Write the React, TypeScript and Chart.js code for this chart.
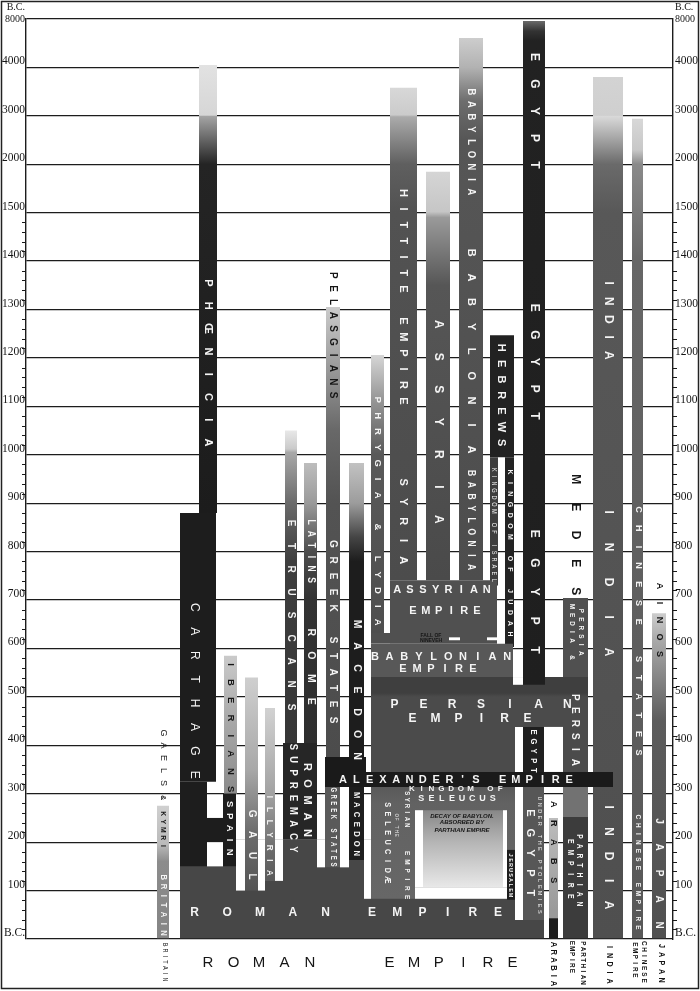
import React, { useEffect, useRef } from 'react';
import { Chart, registerables } from 'chart.js';

Chart.register(...registerables);

// ---- Axis: non-linear year ticks (years B.C.) ----
const TICK_YEARS = [0, 100, 200, 300, 400, 500, 600, 700, 800, 900, 1000, 1100, 1200, 1300, 1400, 1500, 2000, 3000, 4000, 8000];
const TICK_LABELS: (string | string[])[] = ['B.C.', '100', '200', '300', '400', '500', '600', '700', '800', '900', '1000', '1100', '1200', '1300', '1400', '1500', '2000', '3000', '4000', ['B.C.', '8000']];

// ---- Values: span of each block, in years B.C. [from, until] (paint order) ----
const SPANS: Record<string, [number, number]> = {
  romanBase: [205, 0],
  britain: [275, 0],
  phoenicia: [4200, 880],
  carthage: [880, 325],
  carthageLate: [325, 150],
  carthSpain: [250, 200],
  gapCarthage: [200, 150],
  iberians: [585, 300],
  spain: [300, 150],
  gapGaulL: [205, 100],
  gaul: [540, 100],
  gapGaulR: [205, 100],
  illyria: [477, 120],
  gapIllyria: [205, 120],
  etruscans: [1050, 405],
  latins: [983, 405],
  supremacy: [405, 205],
  gapRome: [205, 148],
  pelasgians: [1305, 376],
  greekLate: [314, 148],
  gapGreek: [314, 148],
  macedon: [983, 376],
  macedonLate: [314, 163],
  gapMacedon: [205, 83],
  phrygia: [1206, 632],
  hittite: [3580, 741],
  assyria: [1923, 741],
  babylonia: [6440, 741],
  hebrews: [1247, 995],
  israel: [995, 730],
  judah: [995, 603],
  assyrianEmp: [741, 610],
  assyrianLow: [632, 610],
  babylonianEmp: [610, 541],
  mediaPersia: [704, 541],
  persianEmp: [541, 345],
  egypt: [7840, 525],
  gapEgyptMid: [541, 525],
  gapEgyptL: [438, 39],
  egyptLate: [438, 345],
  gapEgyptR: [438, 345],
  persiaLate: [345, 252],
  parthian: [252, 0],
  seleucid: [314, 83],
  gapDecayL: [266, 107],
  decay: [266, 107],
  gapDecayR: [266, 107],
  gapDecayB: [107, 83],
  jerusalem: [184, 81],
  ptolemies: [314, 39],
  arabs: [250, 43],
  arabia: [43, 0],
  india: [3800, 0],
  chinese: [2940, 0],
  japan: [673, 0],
  macAlex: [376, 314],
  alexander: [345, 314],
  ninevehA: [623, 617],
  ninevehB: [623, 617],
};

// ---- Layout: horizontal lane of each block (x-axis lane units) ----
const LANES: Record<string, [number, number]> = {
  romanBase: [180, 544], britain: [157, 169], phoenicia: [199, 217], carthage: [180, 216],
  carthageLate: [180, 207], carthSpain: [207, 236], gapCarthage: [207, 223], iberians: [224, 237],
  spain: [223, 236], gapGaulL: [236, 245], gaul: [245, 258], gapGaulR: [258, 265],
  illyria: [265, 275], gapIllyria: [275, 283], etruscans: [285, 297], latins: [304, 317],
  supremacy: [283, 317], gapRome: [317, 325], pelasgians: [326, 340], greekLate: [325, 340],
  gapGreek: [340, 349], macedon: [349, 364], macedonLate: [349, 364], gapMacedon: [364, 371],
  phrygia: [371, 384], hittite: [390, 417], assyria: [426, 450], babylonia: [459, 483],
  hebrews: [490, 514], israel: [490, 498], judah: [505, 514], assyrianEmp: [390, 497],
  assyrianLow: [371, 390], babylonianEmp: [371, 513], mediaPersia: [563, 588], persianEmp: [371, 588],
  egypt: [523, 545], gapEgyptMid: [513, 523], gapEgyptL: [515, 523], egyptLate: [523, 544],
  gapEgyptR: [544, 563], persiaLate: [563, 588], parthian: [563, 588], seleucid: [371, 515],
  gapDecayL: [415, 423], decay: [423, 503], gapDecayR: [503, 507], gapDecayB: [415, 507],
  jerusalem: [507, 515], ptolemies: [523, 544], arabs: [549, 558], arabia: [549, 558],
  india: [593, 623], chinese: [632, 643], japan: [652, 666], macAlex: [325, 366],
  alexander: [366, 613], ninevehA: [449, 460], ninevehB: [487, 497],
};

// ---- Styles: flat colour or vertical shading stops [year, colour] ----
const W0 = '#ffffff';
const BLK = '#1d1d1d';
const SHADES: Record<string, string | [number, string][]> = {
  romanBase: '#474747',
  britain: [[275, '#d0d0d0'], [195, '#bababa'], [160, '#8c8c8c'], [0, '#858585']],
  phoenicia: [[4200, '#e2e2e2'], [3010, '#d6d6d6'], [3000, '#a5a5a5'], [2000, '#242424'], [880, '#1c1c1c']],
  carthage: BLK, carthageLate: BLK, carthSpain: BLK, gapCarthage: W0,
  iberians: [[585, '#cacaca'], [450, '#a8a8a8'], [300, '#8a8a8a']],
  spain: BLK, gapGaulL: W0,
  gaul: [[540, '#cfcfcf'], [350, '#a8a8a8'], [220, '#6c6c6c'], [100, '#555555']],
  gapGaulR: W0,
  illyria: [[477, '#d2d2d2'], [300, '#a2a2a2'], [180, '#6a6a6a'], [120, '#5a5a5a']],
  gapIllyria: W0,
  etruscans: [[1050, '#e8e8e8'], [1012, '#cacaca'], [1005, '#a8a8a8'], [900, '#6a6a6a'], [780, '#3e3e3e'], [405, '#363636']],
  latins: [[983, '#bdbdbd'], [900, '#9a9a9a'], [800, '#4c4c4c'], [700, '#333333'], [405, '#2e2e2e']],
  supremacy: '#262626', gapRome: W0,
  pelasgians: [[1305, '#cbcbcb'], [1180, '#9a9a9a'], [1050, '#686868'], [900, '#535353'], [376, '#4c4c4c']],
  greekLate: '#5a5a5a', gapGreek: W0,
  macedon: [[983, '#c2c2c2'], [900, '#9c9c9c'], [830, '#454545'], [780, BLK], [376, BLK]],
  macedonLate: BLK, gapMacedon: W0,
  phrygia: [[1206, '#d6d6d6'], [1120, '#9a9a9a'], [1000, '#595959'], [632, '#4e4e4e']],
  hittite: [[3580, '#d8d8d8'], [3020, '#cbcbcb'], [2980, '#ababab'], [2000, '#5f5f5f'], [1500, '#525252'], [741, '#4c4c4c']],
  assyria: [[1923, '#d5d5d5'], [1510, '#c6c6c6'], [1490, '#9a9a9a'], [1350, '#565656'], [741, '#4a4a4a']],
  babylonia: [[6440, '#cdcdcd'], [4000, '#b2b2b2'], [3300, '#6d6d6d'], [2500, '#565656'], [741, '#4d4d4d']],
  hebrews: '#222222', israel: '#3e3e3e', judah: '#232323',
  assyrianEmp: '#505050', assyrianLow: '#505050', babylonianEmp: '#585858', mediaPersia: '#505050',
  persianEmp: [[541, '#3f3f3f'], [508, '#3f3f3f'], [500, '#4b4b4b'], [345, '#4b4b4b']],
  egypt: [[7840, '#6a6a6a'], [7000, '#333333'], [6200, '#222222'], [525, '#1f1f1f']],
  gapEgyptMid: W0, gapEgyptL: W0, egyptLate: '#1f1f1f', gapEgyptR: W0,
  persiaLate: '#727272', parthian: '#3c3c3c',
  seleucid: [[314, '#5a5a5a'], [280, '#626262'], [83, '#676767']],
  gapDecayL: W0,
  decay: [[266, '#878787'], [200, '#b5b5b5'], [107, '#e8e8e8']],
  gapDecayR: W0, gapDecayB: W0, jerusalem: BLK, ptolemies: '#575757',
  arabs: [[250, '#bdbdbd'], [60, '#9a9a9a']], arabia: BLK,
  india: [[3800, '#d3d3d3'], [3010, '#cfcfcf'], [2990, '#d9d9d9'], [2000, '#6a6a6a'], [1500, '#585858'], [0, '#4f4f4f']],
  chinese: [[2940, '#d8d8d8'], [2300, '#c8c8c8'], [2000, '#8a8a8a'], [1400, '#666666'], [0, '#585858']],
  japan: [[673, '#cdcdcd'], [620, '#ababab'], [450, '#5c5c5c'], [0, '#505050']],
  macAlex: '#1a1a1a', alexander: '#1a1a1a', ninevehA: W0, ninevehB: W0,
};

// ---- Text labels: [text, lane x, year, letter pitch, size, colour, direction, style, squeeze] ----
const W = '#f4f4f4';
const D = '#161616';
type Lbl = [string, number, number, number, number, string, 'v' | 'h', string?, number?];
const LABELS: Lbl[] = [
  ['PHŒNICIA', 208, 1190, 22.8, 11, W, 'v', 'bold'],
  ['CARTHAGE', 194, 512, 23.9, 12, W, 'v'],
  ['IBERIANS', 230.5, 438, 17.8, 9.5, D, 'v', 'bold'],
  ['SPAIN', 229.5, 229, 12, 9.5, W, 'v', 'bold'],
  ['GAUL', 251.5, 194, 21, 10, W, 'v', 'bold'],
  ['ILLYRIA', 270, 215, 12.7, 9.5, W, 'v', 'bold', 0.85],
  ['ETRUSCANS', 291, 669, 23, 10, W, 'v', 'bold'],
  ['LATINS', 310.5, 801, 11.6, 10, W, 'v', 'bold', 0.85],
  ['ROME', 310.5, 562, 23, 10.5, W, 'v', 'bold'],
  ['SUPREMACY', 293, 291, 12.8, 11, W, 'v', 'bold', 0.85],
  ['ROMAN', 307, 287, 16.5, 11, W, 'v', 'bold'],
  ['PELASGIANS', 333, 1247, 13.3, 10, D, 'v', 'bold'],
  ['GREEK STATES', 333, 634, 16, 10, W, 'v', 'bold'],
  ['GREEK STATES', 333, 231, 6.8, 8.5, W, 'v', 'bold', 0.7],
  ['MACEDON', 356.5, 514, 22, 10.5, W, 'v', 'bold'],
  ['MACEDON', 356.5, 237, 9.7, 9, W, 'v', 'bold', 0.85],
  ['PHRYGIA & LYDIA', 377.5, 884, 15.9, 9.5, W, 'v', 'bold'],
  ['HITTITE EMPIRE', 403.5, 1326, 16, 11, W, 'v', 'bold'],
  ['SYRIA', 403.5, 863, 19.5, 11, W, 'v', 'bold'],
  ['ASSYRIA', 438, 1068, 32.5, 12, W, 'v', 'bold'],
  ['BABYLONIA', 471, 2460, 12.5, 11, W, 'v', 'bold', 0.85],
  ['BABYLONIA', 471, 1214, 24.6, 11, W, 'v', 'bold'],
  ['BABYLONIA', 471, 865, 11.75, 10, W, 'v', 'bold', 0.85],
  ['HEBREWS', 501, 1123, 15.8, 11, W, 'v', 'bold'],
  ['KINGDOM OF ISRAEL', 494, 855, 6.9, 6.5, W, 'v', '', 0.85],
  ['KINGDOM OF JUDAH', 510, 797, 10.8, 7, W, 'v', 'bold'],
  ['EGYPT', 534, 3100, 27, 12, W, 'v', 'bold'],
  ['EGYPT', 534, 1192, 27, 12, W, 'v', 'bold'],
  ['EGYPT', 534, 717, 29, 12, W, 'v', 'bold'],
  ['EGYPT', 533.5, 388, 9.6, 9, W, 'v', 'bold', 0.85],
  ['EGYPT', 530, 178, 20, 11, W, 'v', 'bold'],
  ['UNDER THE PTOLEMIES', 540, 173, 6.3, 5.5, W, 'v'],
  ['MEDES', 575, 834, 28, 12, D, 'v', 'bold'],
  ['MEDIA &', 572.5, 634, 8.5, 8, W, 'v', 'bold', 0.8],
  ['PERSIA', 581, 634, 8.5, 8, W, 'v', 'bold', 0.8],
  ['PERSIA', 575, 432, 13, 10, W, 'v', 'bold'],
  ['PARTHIAN', 579.5, 142, 9.6, 8.5, W, 'v', 'bold', 0.8],
  ['EMPIRE', 570, 145, 11, 8.5, W, 'v', 'bold', 0.8],
  ['INDIA', 608, 1280, 18, 12, W, 'v', 'bold'],
  ['INDIA', 608, 737, 35, 12, W, 'v', 'bold'],
  ['INDIA', 608, 171, 24.5, 12, W, 'v', 'bold'],
  ['CHINESE STATES', 638, 636, 18.7, 9, W, 'v', 'bold'],
  ['CHINESE EMPIRE', 638.5, 138, 8.5, 8, W, 'v', 'bold', 0.8],
  ['AINOS', 659, 659, 17, 9, D, 'v', 'bold'],
  ['JAPAN', 659, 136, 26, 10, W, 'v', 'bold'],
  ['GAELS', 163, 374, 12.5, 9, D, 'v'],
  ['& KYMRI', 163, 242, 8, 8, D, 'v', 'bold', 0.85],
  ['BRITAIN', 163, 70, 9.3, 9, W, 'v', 'bold', 0.85],
  ['SYRIAN', 407, 268, 6.4, 8, W, 'v', 'bold', 0.75],
  ['EMPIRE', 407, 132, 8.8, 8, W, 'v', 'bold', 0.8],
  ['SELEUCIDÆ', 387, 200, 9.4, 9, W, 'v', 'bold', 0.8],
  ['OF THE', 396, 235, 4, 4.5, W, 'v'],
  ['JERUSALEM', 511, 132, 5, 5.5, W, 'v', 'bold'],
  ['ARABS', 553.5, 200, 19, 9, D, 'v', 'bold'],
  ['ASSYRIAN', 442, 721, 12.8, 11, W, 'h', 'bold'],
  ['EMPIRE', 445, 677, 12.8, 11, W, 'h', 'bold'],
  ['FALL OF', 431, 627, 0, 5, D, 'h', 'bold'],
  ['NINEVEH', 431, 616, 0, 5, D, 'h', 'bold'],
  ['BABYLONIAN', 441, 582, 14.7, 11, W, 'h', 'bold'],
  ['EMPIRE', 438, 558, 14, 11, W, 'h', 'bold'],
  ['PERSIAN', 481, 483, 28.8, 12, W, 'h', 'bold'],
  ['EMPIRE', 470, 454, 23, 12, W, 'h', 'bold'],
  ["ALEXANDER'S EMPIRE", 456, 329, 13.3, 11, W, 'h', 'bold'],
  ['KINGDOM OF', 456, 311, 9.8, 8, W, 'h', 'bold'],
  ['SELEUCUS', 457, 291, 10.2, 9, W, 'h', 'bold'],
  ['DECAY OF BABYLON.', 462, 254, 0, 6, D, 'h', 'italic bold'],
  ['ABSORBED BY', 462, 240, 0, 6, D, 'h', 'italic bold'],
  ['PARTHIAN EMPIRE', 462, 225, 0, 6, D, 'h', 'italic bold'],
  ['ROMAN', 260, 54, 32.75, 12, W, 'h', 'bold'],
  ['EMPIRE', 435, 54, 25.2, 12, W, 'h', 'bold'],
];

// ---- Footer labels under the axis: [text, lane x, px below axis, pitch, size, bold, direction] ----
type Foot = [string, number, number, number, number, boolean, 'v' | 'h'];
const FOOT_LABELS: Foot[] = [
  ['BRITAIN', 165, 23, 5.8, 6.5, false, 'v'],
  ['ROMAN', 259, 24, 25.5, 15, false, 'h'],
  ['EMPIRE', 451, 24, 24.6, 15, false, 'h'],
  ['ARABIA', 553, 25, 7.8, 9, true, 'v'],
  ['PARTHIAN', 583, 24, 5.6, 7.5, true, 'v'],
  ['EMPIRE', 572, 18, 5.6, 7.5, true, 'v'],
  ['INDIA', 609, 25, 8.5, 8.5, true, 'v'],
  ['CHINESE', 644, 23, 6.2, 7.5, true, 'v'],
  ['EMPIRE', 635, 21, 6.2, 7.5, true, 'v'],
  ['JAPAN', 661, 24, 8.5, 8.5, true, 'v'],
];

function yearToIdx(year: number): number {
  for (let i = 0; i < TICK_YEARS.length - 1; i++) {
    const a = TICK_YEARS[i];
    const b = TICK_YEARS[i + 1];
    if (year <= b) return i + (year - a) / (b - a);
  }
  return TICK_YEARS.length - 1;
}

function shadeFor(key: string): any {
  const s = SHADES[key];
  if (typeof s === 'string') return s;
  return (c: any) => {
    const chart = c.chart;
    const ys = chart.scales && chart.scales.y;
    if (!ys) return s[0][1];
    const p0 = ys.getPixelForValue(yearToIdx(s[0][0]));
    const p1 = ys.getPixelForValue(yearToIdx(s[s.length - 1][0]));
    if (!isFinite(p0) || !isFinite(p1) || Math.abs(p1 - p0) < 1) return s[0][1];
    const g = chart.ctx.createLinearGradient(0, p0, 0, p1);
    for (const [yr, col] of s) {
      const p = ys.getPixelForValue(yearToIdx(yr));
      g.addColorStop(Math.min(1, Math.max(0, (p - p0) / (p1 - p0))), col);
    }
    return g;
  };
}

function drawText(ctx: CanvasRenderingContext2D, text: string, px: number, py: number, pitch: number,
  size: number, color: string, vertical: boolean, style = '', squeeze = 1) {
  ctx.save();
  ctx.translate(px, py);
  if (vertical) ctx.rotate(Math.PI / 2);
  ctx.fillStyle = color;
  ctx.font = (style ? style + ' ' : '') + size + 'px "Liberation Sans", "DejaVu Sans", Arial, sans-serif';
  ctx.textAlign = 'center';
  ctx.textBaseline = 'middle';
  if (!pitch) {
    ctx.scale(squeeze, 1);
    ctx.fillText(text, 0, 0);
  } else {
    const chars = Array.from(text);
    const n = chars.length;
    chars.forEach((ch, i) => {
      if (ch === ' ') return;
      ctx.save();
      ctx.translate((i - (n - 1) / 2) * pitch, 0);
      ctx.scale(squeeze, 1);
      ctx.fillText(ch, 0, 0);
      ctx.restore();
    });
  }
  ctx.restore();
}

const decorPlugin = {
  id: 'decor',
  beforeDraw(chart: any) {
    const ctx = chart.ctx;
    ctx.save();
    ctx.fillStyle = '#ffffff';
    ctx.fillRect(0, 0, chart.width, chart.height);
    ctx.restore();
  },
  afterDatasetsDraw(chart: any) {
    const ctx = chart.ctx;
    const xs = chart.scales.x;
    const ys = chart.scales.y;
    for (const [text, x, yr, pitch, size, color, dir, style, squeeze] of LABELS) {
      drawText(ctx, text, xs.getPixelForValue(x), ys.getPixelForValue(yearToIdx(yr)), pitch, size, color,
        dir === 'v', style || '', squeeze || 1);
    }
  },
  afterDraw(chart: any) {
    const ctx = chart.ctx;
    const xs = chart.scales.x;
    const ys = chart.scales.y;
    const area = chart.chartArea;
    ctx.save();
    ctx.strokeStyle = '#1a1a1a';
    ctx.lineWidth = 1;
    ctx.beginPath();
    for (let i = 0; i < 15; i++) {
      for (let k = 1; k < 5; k++) {
        const y = Math.round(ys.getPixelForValue(i + k / 5)) + 0.5;
        ctx.moveTo(area.left - 4, y);
        ctx.lineTo(area.left, y);
        ctx.moveTo(area.right, y);
        ctx.lineTo(area.right + 4, y);
      }
    }
    ctx.stroke();
    ctx.lineWidth = 1.5;
    ctx.strokeStyle = '#222';
    ctx.strokeRect(1.5, 1.5, chart.width - 3, chart.height - 4);
    ctx.restore();
    for (const [text, x, dy, pitch, size, bold, dir] of FOOT_LABELS) {
      drawText(ctx, text, xs.getPixelForValue(x), area.bottom + dy, pitch, size, '#151515', dir === 'v',
        bold ? 'bold' : '', dir === 'v' ? 0.85 : 1);
    }
  },
};

export default function App() {
  const ref = useRef<HTMLCanvasElement>(null);
  useEffect(() => {
    document.body.style.margin = '0';
    const keys = Object.keys(SPANS);
    const datasets = keys.map((k, i) => {
      const [from, until] = SPANS[k];
      const [x0, x1] = LANES[k];
      return {
        type: 'bar' as const,
        label: k,
        data: [{ x: (x0 + x1) / 2, y: [yearToIdx(until), yearToIdx(from)] }],
        backgroundColor: shadeFor(k),
        barThickness: x1 - x0,
        grouped: false,
        borderWidth: 0,
        inflateAmount: 0,
        borderSkipped: false,
        order: -i,
      };
    });
    const tickFont = (c: any) => ({
      family: '"Liberation Serif", "DejaVu Serif", serif',
      size: c.index === 19 ? 10 : 11.5,
    });
    const tickCb = (v: any) => TICK_LABELS[Math.round(Number(v))] ?? '';
    const chart = new Chart(ref.current as HTMLCanvasElement, {
      type: 'bar',
      data: { datasets: datasets as any },
      options: {
        responsive: false,
        animation: false,
        devicePixelRatio: 1,
        events: [],
        layout: { padding: { top: 19, bottom: 52, left: 0, right: 0 } },
        plugins: { legend: { display: false }, tooltip: { enabled: false } },
        scales: {
          x: { type: 'linear', min: 26, max: 673, display: false, offset: false },
          y: {
            type: 'linear', position: 'left', min: 0, max: 19, z: 1,
            afterFit: (s: any) => { s.width = 26; },
            grid: { color: '#1c1c1c', lineWidth: 1.3, drawTicks: false },
            border: { display: true, color: '#1c1c1c', width: 1.4 },
            ticks: { stepSize: 1, autoSkip: false, callback: tickCb, font: tickFont, color: '#151515', padding: 1, labelOffset: -6 },
          },
          y2: {
            type: 'linear', position: 'right', min: 0, max: 19, z: 1,
            afterFit: (s: any) => { s.width = 27; },
            grid: { drawOnChartArea: false, drawTicks: false },
            border: { display: true, color: '#1c1c1c', width: 1.4 },
            ticks: { stepSize: 1, autoSkip: false, callback: tickCb, font: tickFont, color: '#151515', padding: 2, labelOffset: -6 },
          },
        },
      } as any,
      plugins: [decorPlugin],
    });
    return () => chart.destroy();
  }, []);
  return (
    <div style={{ width: 700, height: 991, background: '#fff' }}>
      <canvas ref={ref} width={700} height={991} style={{ display: 'block', width: 700, height: 991 }} />
    </div>
  );
}
